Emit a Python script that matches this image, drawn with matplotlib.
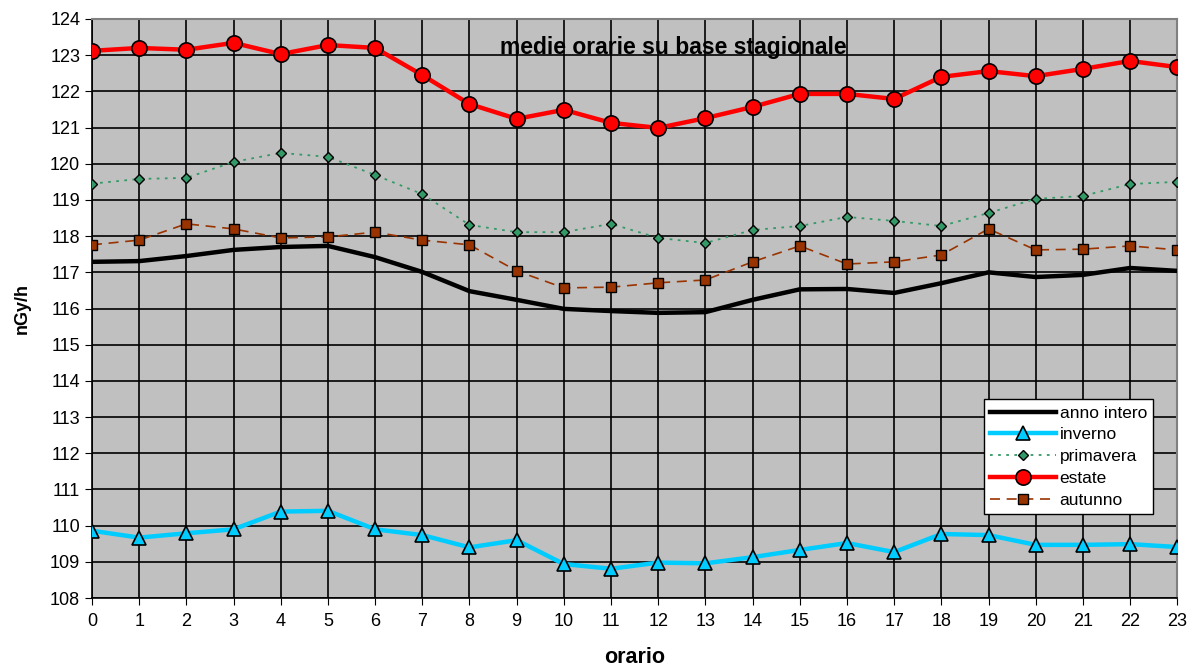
import matplotlib
matplotlib.use("Agg")
import matplotlib.pyplot as plt

plt.rcParams["font.family"] = ["Liberation Sans", "DejaVu Sans"]

ore = list(range(24))

anno_intero = [117.29, 117.31, 117.45, 117.62, 117.70, 117.73, 117.42, 117.01,
               116.48, 116.24, 115.99, 115.93, 115.88, 115.90, 116.24, 116.53,
               116.54, 116.43, 116.70, 117.00, 116.87, 116.93, 117.12, 117.04]
inverno = [109.86, 109.67, 109.79, 109.90, 110.39, 110.41, 109.90, 109.74,
           109.40, 109.60, 108.94, 108.81, 108.98, 108.96, 109.13, 109.33,
           109.52, 109.27, 109.77, 109.74, 109.47, 109.47, 109.49, 109.41]
primavera = [119.45, 119.58, 119.61, 120.05, 120.30, 120.19, 119.69, 119.16,
             118.31, 118.11, 118.11, 118.34, 117.95, 117.81, 118.17, 118.28,
             118.53, 118.42, 118.28, 118.64, 119.03, 119.11, 119.44, 119.50]
estate = [123.12, 123.20, 123.15, 123.34, 123.03, 123.28, 123.20, 122.45,
          121.65, 121.24, 121.49, 121.13, 120.99, 121.26, 121.57, 121.93,
          121.93, 121.79, 122.40, 122.56, 122.42, 122.62, 122.84, 122.67]
autunno = [117.76, 117.89, 118.34, 118.20, 117.95, 117.98, 118.11, 117.89,
           117.76, 117.04, 116.57, 116.59, 116.71, 116.79, 117.29, 117.73,
           117.23, 117.29, 117.48, 118.20, 117.62, 117.64, 117.73, 117.62]

fig = plt.figure(figsize=(11.9, 6.66), dpi=100)
ax = fig.add_axes([0.0773, 0.102, 0.912, 0.8695])
ax.set_facecolor("#C0C0C0")

ax.plot(ore, anno_intero, color="black", lw=3.2, label="anno intero", zorder=3)
ax.plot(ore, inverno, color="#00CCFF", lw=3.2, marker="^", ms=10,
        mfc="#00CCFF", mec="black", mew=1.2, label="inverno", zorder=3)
ax.plot(ore, primavera, color="#339966", lw=1.3, ls=(0, (1.5, 3)), marker="D", ms=5.5,
        mfc="#339966", mec="black", mew=1.0, label="primavera", zorder=3)
ax.plot(ore, estate, color="#FF0000", lw=3.2, marker="o", ms=11,
        mfc="#FF0000", mec="black", mew=1.2, label="estate", zorder=4)
ax.plot(ore, autunno, color="#993300", lw=1.2, ls=(0, (6, 4)), marker="s", ms=7,
        mfc="#993300", mec="black", mew=1.0, label="autunno", zorder=3)

ax.set_xlim(0, 23)
ax.set_ylim(108, 124)
ax.set_xticks(ore)
ax.set_yticks(range(108, 125))
ax.grid(True, color="black", lw=1.2, zorder=0)
ax.set_axisbelow(True)
ax.tick_params(axis="both", labelsize=13, direction="out", length=5, color="black")
ax.tick_params(axis="x", pad=6)

for s in ["top", "right"]:
    ax.spines[s].set_color("#808080")
    ax.spines[s].set_linewidth(1.5)
for s in ["left", "bottom"]:
    ax.spines[s].set_color("black")
    ax.spines[s].set_linewidth(1.2)

ax.set_ylabel("nGy/h", fontsize=13, fontweight="bold", labelpad=14)
ax.set_xlabel("orario", fontsize=15.5, fontweight="bold", labelpad=12)
ax.text(0.536, 0.97, "medie orarie su base stagionale", transform=ax.transAxes,
        ha="center", va="top", fontsize=16.5, fontweight="bold")

leg = ax.legend(loc="upper left", bbox_to_anchor=(0.822, 0.343), fontsize=12.5,
                frameon=True, fancybox=False, edgecolor="black", facecolor="white",
                framealpha=1, handlelength=3.8, handletextpad=0.2,
                labelspacing=0.38, borderpad=0.35, borderaxespad=0)
leg.get_frame().set_linewidth(1.0)

fig.savefig("out.png", dpi=100)
